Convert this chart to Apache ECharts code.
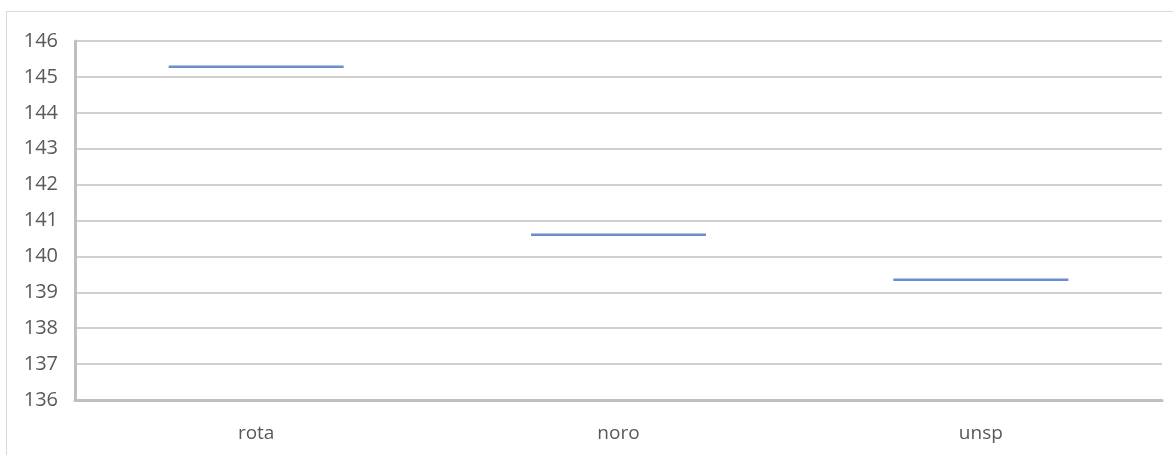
<!DOCTYPE html>
<html>
<head>
<meta charset="utf-8">
<script src="https://cdn.jsdelivr.net/npm/echarts@6/dist/echarts.min.js"></script>
<style>
  body { margin: 0; background: #fff; }
  #wrap { position: relative; width: 1173px; height: 455px; overflow: hidden; }
  #frame { position: absolute; left: 6px; top: 11px; width: 1200px; height: 500px; border: 1px solid #d9d9d9; }
  #chart { position: absolute; left: 0; top: 0; width: 1173px; height: 455px; }
</style>
</head>
<body>
<div id="wrap">
  <div id="frame"></div>
  <div id="chart"></div>
</div>
<script>
const categories = ['rota', 'noro', 'unsp'];
const values = [145.28, 140.6, 139.35];

const chart = echarts.init(document.getElementById('chart'));

chart.setOption({
  animation: false,
  grid: { left: 75, right: 11, top: 41, bottom: 55 },
  xAxis: {
    type: 'category',
    data: categories,
    axisLine: { show: true, lineStyle: { color: '#bfbfbf', width: 3 } },
    axisTick: { show: false },
    axisLabel: { margin: 24, color: '#595959', fontSize: 19, fontFamily: 'Open Sans' }
  },
  yAxis: {
    type: 'value',
    min: 136,
    max: 146,
    interval: 1,
    axisLine: { show: true, lineStyle: { color: '#bfbfbf', width: 3 } },
    axisTick: { show: false },
    splitLine: { lineStyle: { color: '#d0d0d0', width: 2 } },
    axisLabel: { margin: 17, color: '#595959', fontSize: 20, fontFamily: 'Open Sans' }
  },
  series: [{
    type: 'scatter',
    data: values,
    symbol: 'rect',
    symbolSize: [175, 2.5],
    itemStyle: { color: '#4472c4' }
  }]
});
</script>
</body>
</html>
